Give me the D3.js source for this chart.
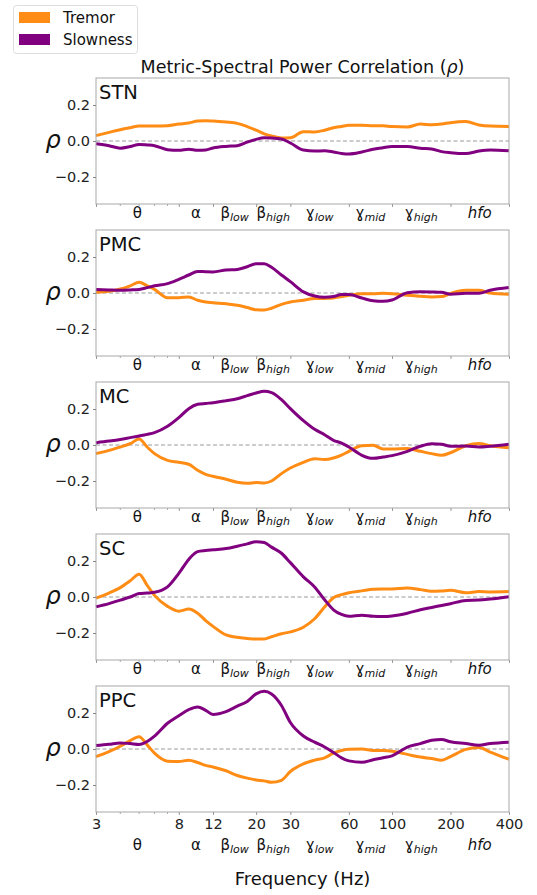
<!DOCTYPE html>
<html><head><meta charset="utf-8">
<script src="https://cdn.jsdelivr.net/npm/d3@7"></script>
<style>body{margin:0;background:#fff;} svg{display:block;font-family:"DejaVu Sans",sans-serif;}</style>
</head><body>
<script>
const freqs = [3,3.5,4,4.5,5,5.5,6,7,8,9,10,11,12,14,16,18,20,22,24,27,30,35,40,45,50,55,60,70,80,90,100,120,140,160,180,200,240,280,320,400];
const regions = ["STN","PMC","MC","SC","PPC"];
const seriesNames = ["Tremor","Slowness"];
const seriesColors = ["#ff8c14","#800080"];

const stnTremor = [0.03,0.048,0.063,0.074,0.083,0.083,0.083,0.085,0.094,0.1,0.111,0.113,0.111,0.105,0.098,0.08,0.06,0.04,0.028,0.017,0.018,0.052,0.05,0.06,0.074,0.081,0.087,0.087,0.085,0.085,0.08,0.078,0.094,0.09,0.094,0.102,0.108,0.089,0.083,0.081];
const stnSlowness = [-0.015,-0.026,-0.04,-0.031,-0.019,-0.022,-0.026,-0.048,-0.052,-0.046,-0.052,-0.05,-0.039,-0.03,-0.026,-0.006,0.009,0.018,0.017,0.011,-0.011,-0.05,-0.056,-0.054,-0.061,-0.069,-0.072,-0.061,-0.046,-0.037,-0.031,-0.031,-0.04,-0.044,-0.059,-0.065,-0.07,-0.056,-0.05,-0.054];
const pmcTremor = [0.004,0.01,0.022,0.04,0.06,0.04,0.02,-0.026,-0.026,-0.022,-0.04,-0.05,-0.054,-0.06,-0.068,-0.081,-0.093,-0.094,-0.085,-0.063,-0.05,-0.04,-0.031,-0.03,-0.028,-0.02,-0.013,-0.004,-0.004,-0.002,-0.004,-0.013,-0.018,-0.022,-0.02,-0.002,0.015,0.015,0,-0.007];
const pmcSlowness = [0.02,0.017,0.015,0.017,0.02,0.03,0.04,0.052,0.076,0.1,0.12,0.118,0.117,0.128,0.131,0.146,0.163,0.163,0.143,0.1,0.063,0.006,-0.017,-0.024,-0.02,-0.009,-0.009,-0.028,-0.043,-0.046,-0.039,0.002,0.007,0.006,0.004,-0.007,-0.002,-0.002,0.015,0.03];
const mcTremor = [-0.048,-0.03,-0.011,0.007,0.033,-0.011,-0.048,-0.085,-0.096,-0.107,-0.14,-0.163,-0.174,-0.19,-0.207,-0.213,-0.209,-0.211,-0.2,-0.159,-0.128,-0.096,-0.076,-0.081,-0.072,-0.056,-0.035,-0.004,-0.002,-0.022,-0.022,-0.02,-0.035,-0.048,-0.057,-0.043,-0.004,0.009,-0.004,-0.015];
const mcSlowness = [0.013,0.022,0.031,0.041,0.05,0.059,0.069,0.104,0.152,0.202,0.226,0.231,0.235,0.246,0.257,0.274,0.289,0.298,0.291,0.252,0.202,0.135,0.087,0.057,0.026,0.011,-0.011,-0.057,-0.074,-0.067,-0.059,-0.035,-0.007,0.007,0.004,-0.007,-0.006,-0.011,-0.007,0.004];
const scTremor = [-0.006,0.022,0.052,0.09,0.127,0.065,0.009,-0.052,-0.079,-0.067,-0.09,-0.131,-0.163,-0.211,-0.224,-0.23,-0.234,-0.234,-0.221,-0.204,-0.194,-0.168,-0.121,-0.056,-0.004,0.013,0.024,0.034,0.043,0.045,0.045,0.05,0.041,0.032,0.034,0.037,0.024,0.03,0.028,0.03];
const scSlowness = [-0.054,-0.037,-0.017,0,0.019,0.022,0.026,0.056,0.131,0.209,0.252,0.258,0.262,0.269,0.282,0.295,0.307,0.303,0.277,0.243,0.191,0.112,0.056,-0.015,-0.071,-0.097,-0.107,-0.101,-0.107,-0.108,-0.105,-0.09,-0.071,-0.058,-0.047,-0.037,-0.019,-0.017,-0.011,0.002];
const ppcTremor = [-0.042,-0.015,0.015,0.047,0.068,0.023,-0.023,-0.068,-0.07,-0.062,-0.075,-0.091,-0.1,-0.121,-0.147,-0.162,-0.172,-0.177,-0.185,-0.174,-0.125,-0.083,-0.062,-0.049,-0.023,-0.008,-0.002,0,-0.008,-0.009,-0.013,-0.03,-0.045,-0.053,-0.062,-0.042,-0.002,0.008,-0.017,-0.057];
const ppcSlowness = [0.019,0.026,0.034,0.03,0.025,0.042,0.072,0.143,0.185,0.219,0.234,0.215,0.192,0.208,0.238,0.264,0.306,0.321,0.306,0.242,0.147,0.072,0.038,0.011,-0.019,-0.049,-0.066,-0.074,-0.06,-0.049,-0.038,0.011,0.03,0.049,0.053,0.04,0.03,0.021,0.03,0.038];

const panelSeries = [[stnTremor,stnSlowness],[pmcTremor,pmcSlowness],[mcTremor,mcSlowness],[scTremor,scSlowness],[ppcTremor,ppcSlowness]];

const xTickValues = [3,8,12,20,30,60,100,200,400];
const xMinorTicks = [4,5,6,7];
const yTickValues = [-0.2,0,0.2];
const bandNames = ["θ","α","β","β","ɣ","ɣ","ɣ","hfo"];
const bandSubs = ["","","low","high","low","mid","high",""];
const bandEdges = [[3,8],[8,12],[12,20],[20,30],[30,60],[60,100],[100,200],[200,400]];

const W=537,H=895;
const left=96,right=509,panelH=126,panelStep=152,firstTop=78;
const svg=d3.select("body").append("svg").attr("width",W).attr("height",H);

const x=d3.scaleLog().domain([3,400]).range([left,right]);

const title=svg.append("text").attr("x",(left+right)/2).attr("y",73).attr("text-anchor","middle")
  .attr("font-size",17.5).attr("fill","#111");
title.append("tspan").text("Metric-Spectral Power Correlation (");
title.append("tspan").attr("font-style","italic").text("ρ");
title.append("tspan").text(")");

regions.forEach((name,i)=>{
  const top=firstTop+i*panelStep;
  const y=d3.scaleLinear().domain([-0.35,0.35]).range([top+panelH,top]);
  const g=svg.append("g");
  g.append("line").attr("x1",left).attr("x2",right).attr("y1",y(0)).attr("y2",y(0))
    .attr("stroke","#999").attr("stroke-width",1).attr("stroke-dasharray","4,2.5");
  const line=d3.line().x((d,j)=>x(freqs[j])).y(d=>y(d)).curve(d3.curveMonotoneX);
  panelSeries[i].forEach((vals,k)=>{
    g.append("path").datum(vals).attr("d",line).attr("fill","none")
      .attr("stroke",seriesColors[k]).attr("stroke-width",3).attr("stroke-linejoin","round");
  });
  g.append("rect").attr("x",left).attr("y",top).attr("width",right-left).attr("height",panelH)
    .attr("fill","none").attr("stroke","#a8a8a8").attr("stroke-width",1);
  const yAxis=d3.axisLeft(y).tickValues(yTickValues).tickSize(3).tickPadding(3)
    .tickFormat(d=>d3.format(".1f")(d).replace("-","−"));
  const ya=g.append("g").attr("transform",`translate(${left},0)`).call(yAxis);
  ya.select(".domain").remove();
  ya.selectAll(".tick line").attr("stroke","#888");
  ya.selectAll("text").attr("font-size",14.5).attr("fill","#222").attr("font-family","DejaVu Sans");
  g.append("text").attr("x",53).attr("y",y(0)+7).attr("text-anchor","middle")
    .attr("font-size",24).attr("font-style","italic").attr("fill","#111").text("ρ");
  g.append("text").attr("x",left+3).attr("y",top+20.5).attr("font-size",19.5).attr("fill","#111").text(name);
  const isLast = i===regions.length-1;
  const xAxis=d3.axisBottom(x).tickValues(xTickValues).tickSize(3).tickPadding(4)
    .tickFormat(isLast? d3.format("d") : "");
  const xa=g.append("g").attr("transform",`translate(0,${top+panelH})`).call(xAxis);
  xa.select(".domain").remove();
  xa.selectAll(".tick line").attr("stroke","#999");
  xa.selectAll("text").attr("font-size",14.5).attr("fill","#222").attr("font-family","DejaVu Sans");
  g.append("g").selectAll("line").data(xMinorTicks).join("line")
    .attr("x1",d=>x(d)).attr("x2",d=>x(d)).attr("y1",top+panelH).attr("y2",top+panelH+2)
    .attr("stroke","#aaa");
  const by = isLast? top+panelH+38 : top+panelH+14;
  bandNames.forEach((b,k)=>{
    const c=Math.sqrt(bandEdges[k][0]*bandEdges[k][1]);
    const t=g.append("text").attr("x",x(c)).attr("y",by).attr("text-anchor","middle")
      .attr("font-size",15).attr("fill","#111");
    if(b==="hfo"){ t.attr("font-style","italic").text(b); }
    else {
      t.append("tspan").text(b);
      if(bandSubs[k]) t.append("tspan").attr("dy",3).attr("font-size",11).attr("font-style","italic").text(bandSubs[k]);
    }
  });
});

svg.append("text").attr("x",(left+right)/2).attr("y",885).attr("text-anchor","middle")
  .attr("font-size",18).attr("fill","#111").text("Frequency (Hz)");

const lg=svg.append("g");
lg.append("rect").attr("x",13.5).attr("y",5.5).attr("width",124).attr("height",48).attr("rx",3)
  .attr("fill","#fff").attr("stroke","#ddd");
seriesNames.forEach((s,k)=>{
  lg.append("rect").attr("x",19).attr("y",12+k*22).attr("width",31).attr("height",11).attr("fill",seriesColors[k]);
  lg.append("text").attr("x",63).attr("y",23+k*22).attr("font-size",15).attr("fill","#111").text(s);
});
</script>
</body></html>
